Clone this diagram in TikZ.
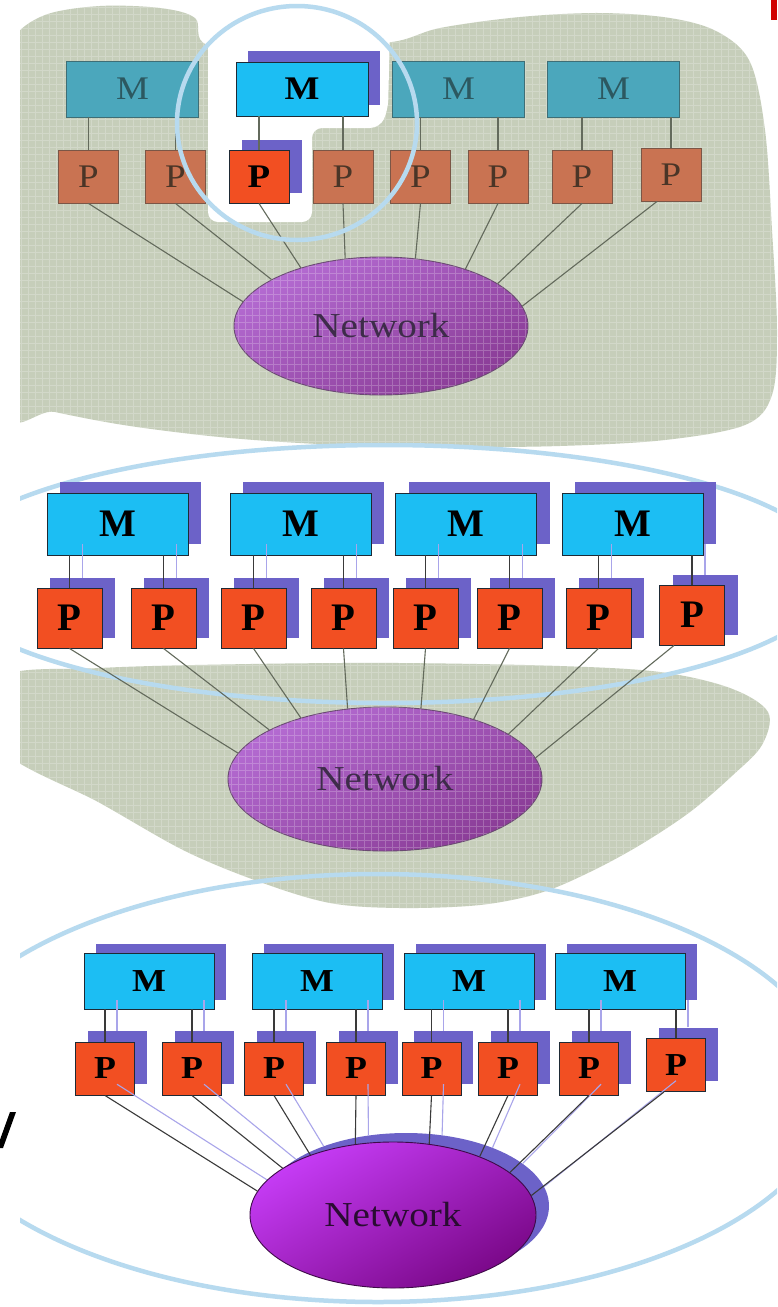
\documentclass[tikz,border=0pt]{standalone}
\usepackage{fontspec}
\setmainfont{Liberation Serif}
\usepackage{graphicx}
\usetikzlibrary{shapes.geometric}

\definecolor{sage}{HTML}{C6CEBA}
\definecolor{ringblue}{HTML}{B7DAEF}
\definecolor{mteal}{HTML}{4BA7BC}
\definecolor{mtealline}{HTML}{3E6E76}
\definecolor{mtealtext}{HTML}{2C5860}
\definecolor{pclay}{HTML}{C97352}
\definecolor{pclayline}{HTML}{7B5646}
\definecolor{pclaytext}{HTML}{4A3527}
\definecolor{mcyan}{HTML}{1CBEF3}
\definecolor{porange}{HTML}{F24F22}
\definecolor{boxline}{HTML}{1E2A35}
\definecolor{dropshade}{HTML}{6C62C8}
\definecolor{paleline}{HTML}{A9A5EA}
\definecolor{netlightA}{HTML}{B46BD2}
\definecolor{netdarkA}{HTML}{8A3C96}
\definecolor{netlineA}{HTML}{6A4A72}
\definecolor{nettextA}{HTML}{3E2C4A}
\definecolor{netlightC}{HTML}{C63CF6}
\definecolor{netdarkC}{HTML}{7A0888}
\definecolor{netlineC}{HTML}{3E0A48}
\definecolor{nettextC}{HTML}{2A0C32}
\definecolor{linkgrey}{HTML}{636A5C}
\definecolor{linkdark}{HTML}{3A3A3A}
\definecolor{flagred}{HTML}{D00000}

\newcommand\stretchx[1]{\scalebox{1.12}[1]{#1}}
\newcommand\fontA{\fontsize{33}{36}\selectfont}
\newcommand\fontB{\fontsize{39}{42}\selectfont\bfseries}
\newcommand\fontC{\fontsize{32}{35}\selectfont\bfseries}
\newcommand\fontN{\fontsize{35}{38}\selectfont}

\begin{document}
\begin{tikzpicture}[x=1pt, y=-1pt,
  mpbox/.style={rectangle, inner sep=0pt, line width=0.9pt},
  mdim/.style={mpbox, fill=mteal, draw=mtealline, text=mtealtext,
    minimum width=132pt, minimum height=56pt, font=\fontA},
  pdim/.style={mpbox, fill=pclay, draw=pclayline, text=pclaytext,
    minimum width=60pt, minimum height=53pt, font=\fontA},
  mlit/.style={mpbox, fill=mcyan, draw=boxline, text=black},
  plit/.style={mpbox, fill=porange, draw=boxline, text=black},
  dropbox/.style={rectangle, inner sep=0pt, fill=dropshade},
  ring/.style={draw=ringblue, line width=4.5pt},
  meshline/.style={white, opacity=0.22, line width=0.6pt},
  linkA/.style={draw=linkgrey, line width=1.1pt},
  linkC/.style={draw=linkdark, line width=1.1pt},
  pale/.style={draw=paleline, line width=1.1pt},
  netA/.style={ellipse, inner sep=0pt, draw=netlineA, line width=0.9pt,
    top color=netlightA, bottom color=netdarkA, shading angle=30},
  netC/.style={ellipse, inner sep=0pt, draw=netlineC, line width=0.9pt,
    top color=netlightC, bottom color=netdarkC, shading angle=30},
  netshadow/.style={ellipse, inner sep=0pt, fill=dropshade},
  netword/.style={inner sep=0pt, font=\fontN},
]
\useasboundingbox (0,0) rectangle (777,1307);
\fill[white] (0,0) rectangle (777,1307);

\begin{scope}
\clip (20,0) rectangle (777,1307);

%% ================= upper panel: one node singled out =================
\fill[sage] plot[smooth cycle, tension=0.55] coordinates {(0,398) (0,90) (12,40) (45,15) (100,6) (160,8) (195,18) (208,45) (300,48) (392,42) (440,28) (520,17) (600,13) (670,18) (718,32) (750,62) (765,130) (772,230) (777,330) (772,395) (745,425) (665,440) (560,446) (450,447) (340,445) (230,438) (130,426) (55,412)};
\begin{scope}
  \clip plot[smooth cycle, tension=0.55] coordinates {(0,398) (0,90) (12,40) (45,15) (100,6) (160,8) (195,18) (208,45) (300,48) (392,42) (440,28) (520,17) (600,13) (670,18) (718,32) (750,62) (765,130) (772,230) (777,330) (772,395) (745,425) (665,440) (560,446) (450,447) (340,445) (230,438) (130,426) (55,412)};
  \draw[meshline, step=7pt] (0,450) grid (777,0);
\end{scope}
% cleared area around the singled-out pair
\fill[white, rounded corners=10pt] (208,-5) -- (208,222) -- (312,222) -- (312,128) -- (380,128) -- (388,110) -- (390,30) -- (405,-5) -- cycle;

\node[netA, minimum width=294pt, minimum height=138pt] (a-net) at (381,326) {};
\begin{scope}
  \clip (381,326) ellipse [x radius=147, y radius=69];
  \draw[meshline, step=7pt] (230,400) grid (530,250);
\end{scope}
\node[netword, text=nettextA] (a-word) at (a-net) {\stretchx{Network}};

\node[dropbox, minimum width=132pt, minimum height=54pt] (a-m2s) at (314,78) {};
\node[dropbox, minimum width=60pt, minimum height=53pt] (a-p3s) at (272,166) {};

\node[mdim] (a-m1) at (132.5,89) {\stretchx{M}};
\node[mlit, minimum width=132pt, minimum height=54pt, font=\fontA\bfseries] (a-m2) at (302,89) {\stretchx{M}};
\node[mdim] (a-m3) at (458.5,89) {\stretchx{M}};
\node[mdim] (a-m4) at (613.5,89) {\stretchx{M}};

\node[pdim] (a-p1) at (88.5,176.5) {\stretchx{P}};
\node[pdim] (a-p2) at (175.5,176.5) {\stretchx{P}};
\node[plit, minimum width=60pt, minimum height=53pt, font=\fontA\bfseries] (a-p3) at (259,176.5) {\stretchx{P}};
\node[pdim] (a-p4) at (343,176.5) {\stretchx{P}};
\node[pdim] (a-p5) at (420.5,176.5) {\stretchx{P}};
\node[pdim] (a-p6) at (498,176.5) {\stretchx{P}};
\node[pdim] (a-p7) at (582,176.5) {\stretchx{P}};
\node[pdim] (a-p8) at (671,174.5) {\stretchx{P}};

\foreach \p/\m in {1/1,2/1,3/2,4/2,5/3,6/3,7/4,8/4}
  \draw[linkA] (a-p\p.north) -- (a-p\p.north |- a-m\m.south);
\foreach \p/\a in {1/170,2/157,3/144,4/118,5/63,6/34,7/20}
  \draw[linkA] (a-p\p.south) -- (a-net.\a);
\draw[linkA] ([xshift=-14pt]a-p8.south) -- (a-net.8);

\draw[ring] (297,123) ellipse [x radius=120, y radius=117];

%% ================= middle panel: all nodes, network shaded =================
\fill[sage] plot[smooth cycle, tension=0.55] coordinates {(0,678) (100,668) (250,664) (400,663) (560,666) (660,672) (730,688) (768,712) (762,745) (733,775) (690,812) (640,845) (590,872) (540,893) (480,905) (400,908) (330,903) (260,882) (185,851) (100,803) (0,748)};
\begin{scope}
  \clip plot[smooth cycle, tension=0.55] coordinates {(0,678) (100,668) (250,664) (400,663) (560,666) (660,672) (730,688) (768,712) (762,745) (733,775) (690,812) (640,845) (590,872) (540,893) (480,905) (400,908) (330,903) (260,882) (185,851) (100,803) (0,748)};
  \draw[meshline, step=7pt] (0,915) grid (777,650);
\end{scope}

\draw[ring] (385,574) ellipse [x radius=450, y radius=129];
\draw[ring] (378,1088) ellipse [x radius=455, y radius=214];

\node[netA, minimum width=314pt, minimum height=144pt] (b-net) at (385,779) {};
\begin{scope}
  \clip (385,779) ellipse [x radius=157, y radius=72];
  \draw[meshline, step=7pt] (220,860) grid (550,700);
\end{scope}
\node[netword, text=nettextA] (b-word) at (b-net) {\stretchx{Network}};

\foreach \i/\x in {1/117.5,2/300.5,3/466,4/632.5}
  \node[dropbox, minimum width=141pt, minimum height=62pt] (b-ms\i) at (\x+13,513) {};
\foreach \i/\x/\y in {1/69.5/618,2/163.5/618,3/253.5/618,4/343.5/618,5/425.5/618,6/509.5/618,7/598.5/618,8/692/615}
  \node[dropbox, minimum width=65pt, minimum height=60pt] (b-ps\i) at (\x+13,\y-10) {};

\foreach \i/\x in {1/117.5,2/300.5,3/466,4/632.5}
  \node[mlit, minimum width=141pt, minimum height=62pt, font=\fontB] (b-m\i) at (\x,524) {M};
\foreach \i/\x/\y in {1/69.5/618,2/163.5/618,3/253.5/618,4/343.5/618,5/425.5/618,6/509.5/618,7/598.5/618,8/692/615}
  \node[plit, minimum width=65pt, minimum height=60pt, font=\fontB] (b-p\i) at (\x,\y) {P};

\foreach \p/\m in {1/1,2/1,3/2,4/2,5/3,6/3,7/4,8/4} {
  \draw[linkC] (b-p\p.north) -- (b-p\p.north |- b-m\m.south);
  \draw[pale] (b-ps\p.north) -- (b-ps\p.north |- b-ms\m.south);
}
\foreach \p/\a in {1/170,2/157,3/144,4/118,5/63,6/34,7/20}
  \draw[linkA] (b-p\p.south) -- (b-net.\a);
\draw[linkA] ([xshift=-18pt]b-p8.south) -- (b-net.8);

%% ================= lower panel: everything shaded =================
\node[netshadow, minimum width=286pt, minimum height=146pt] (c-nets) at (406,1206) {};

\foreach \i/\x in {1/149,2/317,3/469,4/620}
  \node[dropbox, minimum width=130pt, minimum height=56pt] (c-ms\i) at (\x+12,972) {};
\foreach \i/\x/\y in {1/105/1068.5,2/192/1068.5,3/274/1068.5,4/356/1068.5,5/431.5/1068.5,6/508/1068.5,7/589/1068.5,8/676/1065}
  \node[dropbox, minimum width=59pt, minimum height=53pt] (c-ps\i) at (\x+12,\y-11) {};

\foreach \i/\x in {1/149,2/317,3/469,4/620}
  \node[mlit, minimum width=130pt, minimum height=56pt, font=\fontC] (c-m\i) at (\x,981) {\stretchx{M}};
\foreach \i/\x/\y in {1/105/1068.5,2/192/1068.5,3/274/1068.5,4/356/1068.5,5/431.5/1068.5,6/508/1068.5,7/589/1068.5,8/676/1065}
  \node[plit, minimum width=59pt, minimum height=53pt, font=\fontC] (c-p\i) at (\x,\y) {\stretchx{P}};

\foreach \p/\a in {1/170,2/157,3/144,4/118,5/63,6/34,7/20}
  \draw[pale] (c-ps\p.south) -- (c-nets.\a);
\draw[pale] ([xshift=-12pt]c-ps8.south) -- (c-nets.8);

\node[netC, minimum width=286pt, minimum height=146pt] (c-net) at (393,1215) {};
\node[netword, text=nettextC] (c-word) at (c-net) {\stretchx{Network}};

\foreach \p/\m in {1/1,2/1,3/2,4/2,5/3,6/3,7/4,8/4} {
  \draw[linkC] (c-p\p.north) -- (c-p\p.north |- c-m\m.south);
  \draw[pale] (c-ps\p.north) -- (c-ps\p.north |- c-ms\m.south);
}
\foreach \p/\a in {1/170,2/157,3/144,4/118,5/63,6/34,7/20}
  \draw[linkC] (c-p\p.south) -- (c-net.\a);
\draw[linkC] ([xshift=-12pt]c-p8.south) -- (c-net.8);
\end{scope}

%% marks at the page edges
\fill[flagred] (771,0) rectangle (777,20);
\fill[black] (10,1112) -- (16,1112) -- (3,1148) -- (-3,1148) -- cycle;
\end{tikzpicture}
\end{document}
